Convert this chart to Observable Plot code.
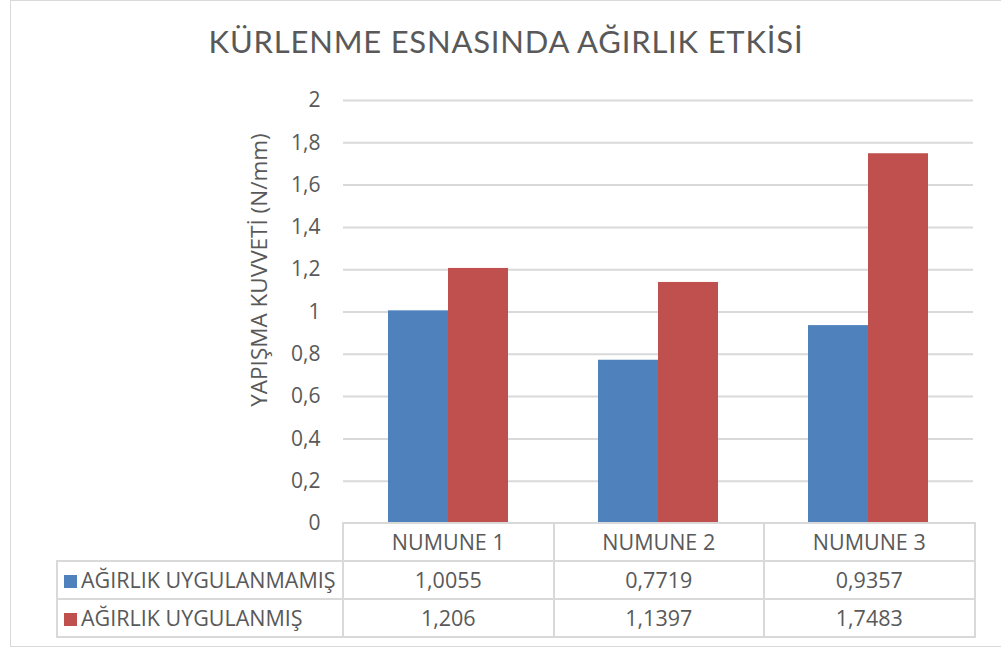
<!DOCTYPE html>
<html>
<head>
<meta charset="utf-8">
<script src="https://cdn.jsdelivr.net/npm/d3@7"></script>
<script src="https://cdn.jsdelivr.net/npm/@observablehq/plot@0.6"></script>
<style>
  html, body { margin: 0; padding: 0; background: #fff; }
  #root { position: relative; width: 1001px; height: 650px; overflow: hidden; font-family: "Open Sans", sans-serif; color: #595959; }
  #frame { position: absolute; left: 10px; top: 0px; width: 1000px; height: 647px; border: 1px solid #d9d9d9; box-sizing: border-box; }
  #title { position: absolute; left: 0; width: 1012px; top: 22px; text-align: center; font-family: Lato, sans-serif; font-size: 31px; letter-spacing: 0.8px; font-weight: 400; color: #595959; white-space: nowrap; }
  #ylabel { position: absolute; left: 258px; top: 270px; transform: translate(-50%, -50%) rotate(-90deg); font-size: 22.5px; white-space: nowrap; color: #595959; }
  #chart { position: absolute; left: 0; top: 0; }
  #table { position: absolute; left: 56px; top: 522px; border-collapse: collapse; table-layout: fixed; font-size: 21.5px; color: #595959; }
  #table td { border: 2px solid #d9d9d9; text-align: center; padding: 0; height: 36px; line-height: 34px; white-space: nowrap; }
  #table td.blank { border: none; border-right: 2px solid #d9d9d9; }
  #table td.name { text-align: left; padding-left: 6px; }
  .key { display: inline-block; width: 13px; height: 13px; margin-right: 4px; vertical-align: 0px; }
</style>
</head>
<body>
<div id="root">
  <div id="frame"></div>
  <div id="title"></div>
  <div id="chart"></div>
  <div id="ylabel"></div>
  <table id="table"></table>
</div>
<script>
const titleText = "KÜRLENME ESNASINDA AĞIRLIK ETKİSİ";
const yLabelText = "YAPIŞMA KUVVETİ (N/mm)";
const categories = ["NUMUNE 1", "NUMUNE 2", "NUMUNE 3"];
const seriesNames = ["AĞIRLIK UYGULANMAMIŞ", "AĞIRLIK UYGULANMIŞ"];
const unweighted = [1.0055, 0.7719, 0.9357];
const weighted = [1.206, 1.1397, 1.7483];
const yTicks = [0, 0.2, 0.4, 0.6, 0.8, 1, 1.2, 1.4, 1.6, 1.8, 2];
const seriesColors = ["#4F81BD", "#C0504D"];

const seriesValues = [unweighted, weighted];
const fmt = v => String(v).replace(".", ",");

const data = [];
seriesNames.forEach((s, si) => {
  categories.forEach((c, ci) => {
    data.push({ category: c, series: s, value: seriesValues[si][ci] });
  });
});

document.getElementById("title").textContent = titleText;
document.getElementById("ylabel").textContent = yLabelText;

const chart = Plot.plot({
  width: 1001,
  height: 524,
  marginLeft: 342,
  marginRight: 28,
  marginTop: 100,
  marginBottom: 1,
  style: { fontFamily: "'Open Sans', sans-serif", fontSize: "21px", color: "#595959", background: "transparent", overflow: "visible" },
  fx: { domain: categories, padding: 0, axis: null },
  x: { domain: seriesNames, paddingInner: 0, paddingOuter: 0.725, axis: null },
  y: { domain: [0, 2], axis: null },
  color: { domain: seriesNames, range: seriesColors },
  marks: [
    Plot.gridY(yTicks.filter(t => t > 0), { stroke: "#d9d9d9", strokeOpacity: 1, strokeWidth: 2 }),
    Plot.barY(data, { fx: "category", x: "series", y: "value", fill: "series" }),
    Plot.axisY(yTicks, { facetAnchor: "left", tickSize: 0, tickPadding: 23, tickFormat: fmt, label: null, fill: "#595959" })
  ]
});
document.getElementById("chart").appendChild(chart);

// data table
const table = document.getElementById("table");
const colgroup = document.createElement("colgroup");
[286, 210.5, 210.5, 210.5].forEach(w => {
  const col = document.createElement("col");
  col.style.width = w + "px";
  colgroup.appendChild(col);
});
table.appendChild(colgroup);
const head = document.createElement("tr");
const blank = document.createElement("td");
blank.className = "blank";
head.appendChild(blank);
categories.forEach(c => {
  const td = document.createElement("td");
  td.textContent = c;
  head.appendChild(td);
});
table.appendChild(head);
seriesNames.forEach((s, si) => {
  const tr = document.createElement("tr");
  const name = document.createElement("td");
  name.className = "name";
  const key = document.createElement("span");
  key.className = "key";
  key.style.background = seriesColors[si];
  name.appendChild(key);
  name.appendChild(document.createTextNode(s));
  tr.appendChild(name);
  seriesValues[si].forEach(v => {
    const td = document.createElement("td");
    td.textContent = fmt(v);
    tr.appendChild(td);
  });
  table.appendChild(tr);
});
</script>
</body>
</html>
